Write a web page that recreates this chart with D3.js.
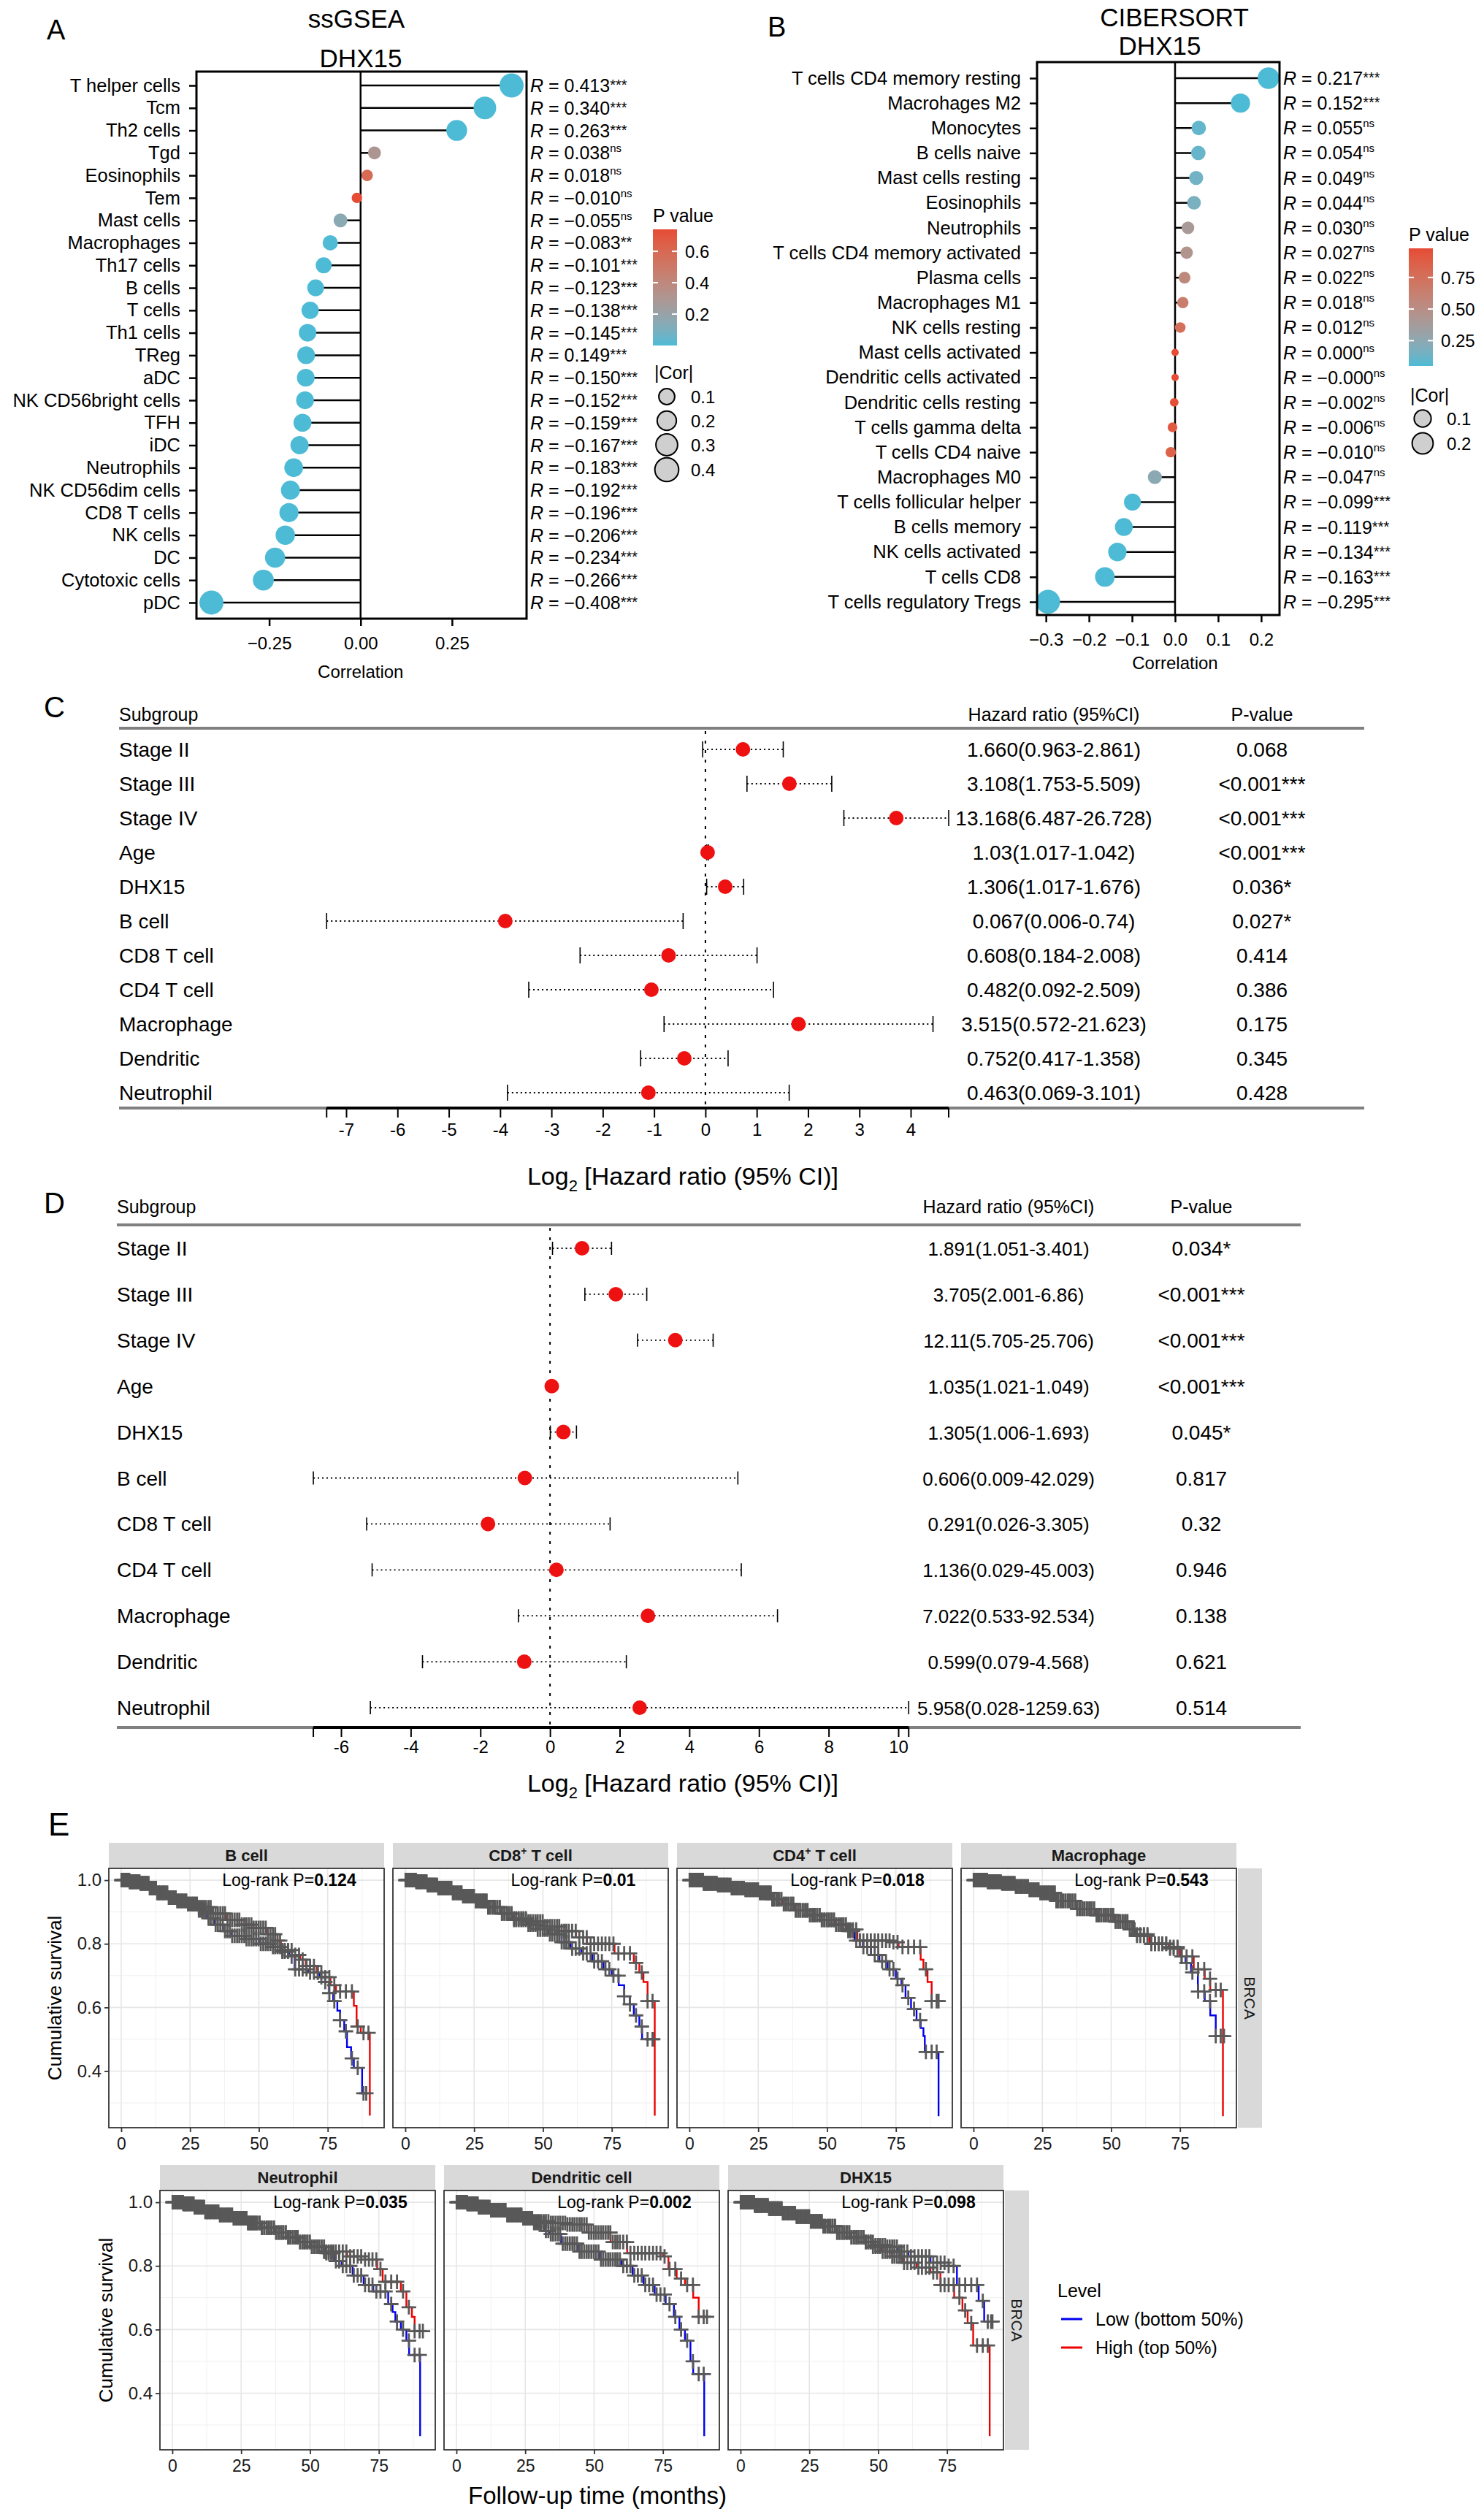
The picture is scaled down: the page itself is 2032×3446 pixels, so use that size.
<!DOCTYPE html>
<html>
<head>
<meta charset="utf-8">
<script src="https://cdn.jsdelivr.net/npm/d3@7"></script>
<style>
  body { margin: 0; background: #fff; }
  svg text { font-family: "Liberation Sans", Arial, sans-serif; }
</style>
</head>
<body>
<script>
// ---------- A: ssGSEA ----------
const ssgCells = ["T helper cells","Tcm","Th2 cells","Tgd","Eosinophils","Tem","Mast cells","Macrophages","Th17 cells","B cells","T cells","Th1 cells","TReg","aDC","NK CD56bright cells","TFH","iDC","Neutrophils","NK CD56dim cells","CD8 T cells","NK cells","DC","Cytotoxic cells","pDC"];
const ssgR = [0.413,0.340,0.263,0.038,0.018,-0.010,-0.055,-0.083,-0.101,-0.123,-0.138,-0.145,-0.149,-0.150,-0.152,-0.159,-0.167,-0.183,-0.192,-0.196,-0.206,-0.234,-0.266,-0.408];
const ssgRText = ["0.413","0.340","0.263","0.038","0.018","−0.010","−0.055","−0.083","−0.101","−0.123","−0.138","−0.145","0.149","−0.150","−0.152","−0.159","−0.167","−0.183","−0.192","−0.196","−0.206","−0.234","−0.266","−0.408"];
const ssgSig = ["***","***","***","ns","ns","ns","ns","**","***","***","***","***","***","***","***","***","***","***","***","***","***","***","***","***"];
const ssgP = [0,0,0,0.30,0.59,0.74,0.15,0.004,0,0,0,0,0,0,0,0,0,0,0,0,0,0,0,0];

// ---------- B: CIBERSORT ----------
const cibCells = ["T cells CD4 memory resting","Macrohages M2","Monocytes","B cells naive","Mast cells resting","Eosinophils","Neutrophils","T cells CD4 memory activated","Plasma cells","Macrophages M1","NK cells resting","Mast cells activated","Dendritic cells activated","Dendritic cells resting","T cells gamma delta","T cells CD4 naive","Macrophages M0","T cells follicular helper","B cells memory","NK cells activated","T cells CD8","T cells regulatory Tregs"];
const cibR = [0.217,0.152,0.055,0.054,0.049,0.044,0.030,0.027,0.022,0.018,0.012,0.000,-0.000,-0.002,-0.006,-0.010,-0.047,-0.099,-0.119,-0.134,-0.163,-0.295];
const cibRText = ["0.217","0.152","0.055","0.054","0.049","0.044","0.030","0.027","0.022","0.018","0.012","0.000","−0.000","−0.002","−0.006","−0.010","−0.047","−0.099","−0.119","−0.134","−0.163","−0.295"];
const cibSig = ["***","***","ns","ns","ns","ns","ns","ns","ns","ns","ns","ns","ns","ns","ns","ns","ns","***","***","***","***","***"];
const cibP = [0.05,0.05,0.10,0.11,0.14,0.17,0.40,0.45,0.55,0.65,0.76,0.98,0.98,0.96,0.90,0.85,0.24,0.05,0.05,0.05,0.05,0.05];

// ---------- C / D: forest plots ----------
const coxLabels = ["Stage II","Stage III","Stage IV","Age","DHX15","B cell","CD8 T cell","CD4 T cell","Macrophage","Dendritic","Neutrophil"];
const cHR = [1.660,3.108,13.168,1.03,1.306,0.067,0.608,0.482,3.515,0.752,0.463];
const cLow = [0.963,1.753,6.487,1.017,1.017,0.006,0.184,0.092,0.572,0.417,0.069];
const cHigh = [2.861,5.509,26.728,1.042,1.676,0.74,2.008,2.509,21.623,1.358,3.101];
const cHRText = ["1.660(0.963-2.861)","3.108(1.753-5.509)","13.168(6.487-26.728)","1.03(1.017-1.042)","1.306(1.017-1.676)","0.067(0.006-0.74)","0.608(0.184-2.008)","0.482(0.092-2.509)","3.515(0.572-21.623)","0.752(0.417-1.358)","0.463(0.069-3.101)"];
const cPText = ["0.068","<0.001***","<0.001***","<0.001***","0.036*","0.027*","0.414","0.386","0.175","0.345","0.428"];
const cTicks = [-7,-6,-5,-4,-3,-2,-1,0,1,2,3,4];

const dHR = [1.891,3.705,12.11,1.035,1.305,0.606,0.291,1.136,7.022,0.599,5.958];
const dLow = [1.051,2.001,5.705,1.021,1.006,0.009,0.026,0.029,0.533,0.079,0.028];
const dHigh = [3.401,6.86,25.706,1.049,1.693,42.029,3.305,45.003,92.534,4.568,1259.63];
const dHRText = ["1.891(1.051-3.401)","3.705(2.001-6.86)","12.11(5.705-25.706)","1.035(1.021-1.049)","1.305(1.006-1.693)","0.606(0.009-42.029)","0.291(0.026-3.305)","1.136(0.029-45.003)","7.022(0.533-92.534)","0.599(0.079-4.568)","5.958(0.028-1259.63)"];
const dPText = ["0.034*","<0.001***","<0.001***","<0.001***","0.045*","0.817","0.32","0.946","0.138","0.621","0.514"];
const dTicks = [-6,-4,-2,0,2,4,6,8,10];

// ---------- E: Kaplan-Meier curves ([month, survival]) ----------
const kmNames = ["B cell","CD8+ T cell","CD4+ T cell","Macrophage","Neutrophil","Dendritic cell","DHX15"];
const kmLogRank = ["0.124","0.01","0.018","0.543","0.035","0.002","0.098"];
const bcellLow = [[0,1],[3,0.995],[7,0.99],[10,0.975],[13,0.96],[17,0.945],[20,0.935],[24,0.925],[28,0.905],[31,0.88],[34,0.86],[37,0.84],[40,0.825],[45,0.815],[50,0.80],[55,0.79],[58,0.775],[61,0.76],[63,0.72],[68,0.71],[72,0.695],[74,0.68],[75.5,0.645],[77,0.62],[78.5,0.59],[79.5,0.56],[81,0.525],[82,0.475],[83.5,0.44],[84.5,0.41],[87.5,0.33],[89,0.33]];
const bcellHigh = [[0,1],[3,0.995],[7,0.99],[10,0.975],[13,0.96],[17,0.945],[20,0.935],[24,0.925],[28,0.915],[33,0.895],[38,0.875],[43,0.86],[48,0.85],[53,0.83],[56,0.81],[58,0.78],[62,0.765],[65,0.75],[67,0.73],[71,0.71],[74,0.695],[76,0.67],[78,0.65],[84.5,0.605],[85.5,0.54],[87,0.52],[90.3,0.26]];
const cd8Low = [[0,1],[4,0.995],[8,0.985],[12,0.975],[17,0.96],[21,0.95],[25,0.935],[30,0.915],[35,0.895],[39,0.875],[44,0.86],[48,0.845],[52,0.83],[56,0.805],[60,0.785],[64,0.77],[68,0.745],[72,0.72],[75,0.70],[77.5,0.67],[79.5,0.635],[81.5,0.61],[83,0.575],[85,0.54],[86,0.50],[90,0.50]];
const cd8High = [[0,1],[4,0.995],[8,0.985],[12,0.975],[17,0.96],[21,0.95],[25,0.935],[30,0.915],[35,0.895],[39,0.88],[44,0.87],[50,0.855],[56,0.84],[62,0.82],[66,0.80],[76,0.77],[83,0.74],[85,0.71],[86.5,0.68],[88,0.62],[90.6,0.26]];
const cd4Low = [[0,1],[5,0.99],[10,0.985],[15,0.975],[20,0.97],[25,0.96],[30,0.94],[34,0.925],[38,0.905],[43,0.89],[48,0.875],[53,0.86],[57,0.84],[60,0.81],[63,0.79],[66,0.765],[69,0.745],[72,0.72],[75,0.69],[77,0.67],[78.5,0.63],[80.5,0.595],[82.5,0.56],[84,0.535],[85,0.51],[85.5,0.46],[90.5,0.258]];
const cd4High = [[0,1],[5,0.99],[10,0.985],[15,0.975],[20,0.97],[25,0.96],[30,0.94],[34,0.925],[38,0.905],[43,0.89],[48,0.875],[53,0.86],[57,0.845],[61,0.81],[73,0.805],[76,0.79],[84,0.75],[85,0.72],[86.5,0.68],[88,0.62],[90.5,0.62]];
const macLow = [[0,1],[5,0.995],[10,0.99],[15,0.98],[20,0.97],[24,0.96],[30,0.935],[37,0.91],[44,0.89],[51,0.87],[56,0.845],[59,0.83],[64,0.80],[71,0.79],[75,0.76],[77,0.74],[79,0.71],[81.5,0.65],[84,0.62],[86,0.575],[88,0.51],[91,0.51]];
const macHigh = [[0,1],[5,0.995],[10,0.99],[15,0.98],[20,0.97],[24,0.96],[30,0.935],[37,0.91],[44,0.89],[51,0.87],[56,0.845],[59,0.825],[64,0.80],[71,0.785],[75,0.76],[80,0.72],[84,0.69],[86,0.655],[90.6,0.258]];
const neuLow = [[0,1],[4,0.995],[8,0.985],[12,0.97],[17,0.96],[22,0.95],[27,0.935],[32,0.92],[37,0.905],[42,0.89],[46,0.875],[50,0.86],[55.5,0.84],[59,0.815],[61.5,0.80],[65.5,0.77],[69.5,0.74],[73,0.72],[78.4,0.68],[80,0.655],[81,0.625],[83,0.60],[85,0.565],[86,0.52],[90,0.265]];
const neuHigh = [[0,1],[4,0.995],[8,0.985],[12,0.97],[17,0.96],[22,0.95],[27,0.935],[32,0.92],[37,0.905],[42,0.89],[46,0.875],[50,0.86],[55,0.845],[63.5,0.83],[70,0.82],[74.4,0.79],[76.4,0.75],[83,0.72],[85,0.67],[87,0.64],[88,0.595],[91,0.595]];
const dcLow = [[0,1],[4,0.995],[8,0.985],[12.5,0.975],[18,0.96],[24,0.95],[28,0.935],[32,0.91],[34,0.90],[38,0.87],[44,0.845],[52,0.82],[60,0.80],[64,0.77],[68,0.74],[72,0.71],[76,0.68],[79,0.64],[81,0.60],[83,0.565],[85,0.50],[86,0.46],[90,0.265]];
const dcHigh = [[0,1],[4,0.995],[8,0.985],[12.5,0.975],[18,0.96],[24,0.95],[28,0.94],[34,0.935],[40,0.93],[48,0.905],[56,0.875],[62,0.84],[75,0.83],[77,0.79],[80,0.76],[83,0.74],[86,0.70],[88,0.64],[91,0.64]];
const dhxLow = [[0,1],[5,0.99],[10,0.98],[15,0.966],[20,0.955],[25,0.94],[30,0.925],[35,0.905],[40,0.89],[45,0.875],[49,0.865],[53,0.86],[57,0.845],[61,0.83],[69,0.81],[75.6,0.80],[78.6,0.74],[86.5,0.69],[88.5,0.625],[91.5,0.625]];
const dhxHigh = [[0,1],[5,0.99],[10,0.98],[15,0.966],[20,0.955],[25,0.94],[30,0.925],[35,0.905],[40,0.89],[45,0.875],[48,0.86],[51,0.845],[55,0.83],[59,0.81],[64,0.795],[69,0.78],[72.6,0.74],[77.6,0.70],[80.6,0.66],[82.5,0.62],[84.5,0.55],[90.5,0.265]];
// follow-up times of censored patients (months)
const censorMonths = [0.1,0.3,0.5,0.6,0.8,1.0,1.2,1.3,1.5,1.7,1.9,2.1,2.3,2.4,2.6,2.9,3.1,3.3,3.6,3.8,4.0,4.3,4.6,4.9,5.2,5.5,5.9,6.2,6.6,7.0,7.3,7.7,8.1,8.6,9.0,9.5,9.9,
  10.4,10.9,11.5,12.0,12.6,13.1,13.7,14.2,14.9,15.4,16.0,16.7,17.3,17.8,18.5,19.1,19.8,20.4,21.0,21.7,22.3,23.0,23.6,24.3,24.9,25.6,26.2,26.9,27.5,28.2,28.8,29.5,30.1,
  30.8,31.7,32.5,33.4,34.3,35.1,36.0,36.9,37.7,38.6,39.5,40.3,41.2,42.1,42.9,43.8,44.7,45.5,46.4,47.3,48.1,49.0,49.9,50.7,51.6,52.5,53.3,54.2,55.1,55.9,56.8,57.7,58.5,59.4,
  60.6,61.9,63.2,64.6,65.9,67.3,68.6,70.0,71.4,72.7,74.1,75.6,77.4,79.5,81.6,83.8,85.9,88.0,89.8,91.0];

const sans = '"Liberation Sans", Arial, sans-serif';
const serif = '"Liberation Serif", "Times New Roman", serif';

const svg = d3.select("body").append("svg")
  .attr("width", 2032).attr("height", 3446)
  .style("background", "#fff");

function letter(t, x, y, size) {
  svg.append("text").attr("x", x).attr("y", y).attr("font-size", size).text(t);
}

// lollipop correlation plot (panels A and B)
function lollipop(o) {
  const g = svg.append("g");
  const [bx0, bx1, by0, by1] = o.box;
  const x = d3.scaleLinear().domain(o.xDomain).range([bx0, bx1]);
  const y = d3.scalePoint().domain(o.cells).range(o.rows);
  const col = d3.scaleLinear().domain(o.pDomain).range(["#4DBBD5", "#E64B35"]).interpolate(d3.interpolateLab);
  const rad = d3.scaleSqrt().domain(o.sizeDomain).range(o.sizeRange);
  const rows = o.cells.map((c, i) => ({c, r: o.r[i], t: o.rText[i], s: o.sig[i], p: o.p[i]}));

  o.titles.forEach(t => g.append("text").attr("x", t[0]).attr("y", t[1])
    .attr("text-anchor", "middle").attr("font-size", 35).text(t[2]));

  g.append("line").attr("x1", x(0)).attr("x2", x(0)).attr("y1", by0).attr("y2", by1)
    .attr("stroke", "#000").attr("stroke-width", 2.5);
  g.selectAll(".seg").data(rows).join("line")
    .attr("x1", x(0)).attr("x2", d => x(d.r))
    .attr("y1", d => y(d.c)).attr("y2", d => y(d.c))
    .attr("stroke", "#000").attr("stroke-width", 2.5);
  g.selectAll(".pt").data(rows).join("circle")
    .attr("cx", d => x(d.r)).attr("cy", d => y(d.c))
    .attr("r", d => rad(Math.abs(d.r))).attr("fill", d => col(d.p));
  g.append("rect").attr("x", bx0).attr("y", by0).attr("width", bx1 - bx0).attr("height", by1 - by0)
    .attr("fill", "none").attr("stroke", "#000").attr("stroke-width", 3);

  const ya = g.append("g").attr("transform", `translate(${bx0},0)`)
    .call(d3.axisLeft(y).tickSize(10).tickPadding(12));
  ya.select(".domain").remove();
  ya.attr("font-size", 25.5).attr("font-family", sans);
  ya.selectAll("line").attr("stroke-width", 2.5);

  const xa = g.append("g").attr("transform", `translate(0,${by1})`)
    .call(d3.axisBottom(x).tickValues(o.ticks).tickFormat(o.fmt).tickSize(10).tickPadding(15));
  xa.select(".domain").remove();
  xa.attr("font-size", 24).attr("font-family", sans);
  xa.selectAll("line").attr("stroke-width", 2.5);
  g.append("text").attr("x", x(0)).attr("y", o.xTitleY).attr("text-anchor", "middle")
    .attr("font-size", 24).text("Correlation");

  g.selectAll(".lab").data(rows).join("text")
    .attr("x", bx1 + 5).attr("y", d => y(d.c) + 9).attr("font-size", 25)
    .each(function (d) {
      const t = d3.select(this);
      t.append("tspan").attr("font-style", "italic").text("R");
      t.append("tspan").text(" = " + d.t);
      if (d.s === "ns") t.append("tspan").attr("font-size", 15).attr("dy", -10).text("ns");
      else t.append("tspan").attr("font-size", 20).attr("dy", -3).text(d.s);
    });

  // colour bar legend
  const L = o.legend;
  g.append("text").attr("x", L.x).attr("y", L.titleY).attr("font-size", 25).text("P value");
  const gid = "grad" + o.id;
  const grad = svg.append("defs").append("linearGradient").attr("id", gid)
    .attr("x1", 0).attr("x2", 0).attr("y1", 1).attr("y2", 0);
  d3.range(0, 1.0001, 0.1).forEach(f => grad.append("stop").attr("offset", f)
    .attr("stop-color", col(o.pDomain[0] + f * (o.pDomain[1] - o.pDomain[0]))));
  g.append("rect").attr("x", L.x).attr("y", L.barTop).attr("width", 33).attr("height", L.barBot - L.barTop)
    .attr("fill", `url(#${gid})`);
  const py = d3.scaleLinear().domain(o.pDomain).range([L.barBot, L.barTop]);
  L.pTicks.forEach(v => {
    g.append("line").attr("x1", L.x).attr("x2", L.x + 7).attr("y1", py(v)).attr("y2", py(v)).attr("stroke", "#fff").attr("stroke-width", 2);
    g.append("line").attr("x1", L.x + 26).attr("x2", L.x + 33).attr("y1", py(v)).attr("y2", py(v)).attr("stroke", "#fff").attr("stroke-width", 2);
    g.append("text").attr("x", L.x + 44).attr("y", py(v) + 9).attr("font-size", 24).text(L.pFmt(v));
  });
  // size legend
  g.append("text").attr("x", L.x + 2).attr("y", L.sizeTitleY).attr("font-size", 25).text("|Cor|");
  L.sizes.forEach((v, i) => {
    const cy = L.sizeY[i];
    g.append("circle").attr("cx", L.x + 19).attr("cy", cy).attr("r", rad(v))
      .attr("fill", "#cfcfcf").attr("stroke", "#000").attr("stroke-width", 2);
    g.append("text").attr("x", L.x + 52).attr("y", cy + 9).attr("font-size", 24).text(v);
  });
}

// forest plot (panels C and D)
function forest(o) {
  const g = svg.append("g");
  const x = d3.scaleLinear().domain(o.domain).range(o.range);
  const y = d3.scalePoint().domain(coxLabels).range(o.rows);
  const rows = coxLabels.map((l, i) => ({l, hr: o.hr[i], lo: o.lo[i], hi: o.hi[i], txt: o.txt[i], p: o.p[i]}));

  g.append("text").attr("x", o.labelX).attr("y", o.headY).attr("font-size", 25).text("Subgroup");
  g.append("text").attr("x", o.hrX).attr("y", o.headY).attr("text-anchor", "middle").attr("font-size", 25).text("Hazard ratio (95%CI)");
  g.append("text").attr("x", o.pX).attr("y", o.headY).attr("text-anchor", "middle").attr("font-size", 25).text("P-value");

  [o.headLine, o.footLine].forEach(yy => g.append("line")
    .attr("x1", o.lineX[0]).attr("x2", o.lineX[1]).attr("y1", yy).attr("y2", yy)
    .attr("stroke", "#808080").attr("stroke-width", 4));

  g.append("line").attr("x1", x(0)).attr("x2", x(0)).attr("y1", o.headLine + 4).attr("y2", o.footLine - 2)
    .attr("stroke", "#000").attr("stroke-width", 2).attr("stroke-dasharray", "4,9");

  const rg = g.selectAll(".row").data(rows).join("g").attr("transform", d => `translate(0,${y(d.l)})`);
  rg.append("line").attr("x1", d => x(Math.log2(d.lo))).attr("x2", d => x(Math.log2(d.hi)))
    .attr("stroke", "#000").attr("stroke-width", 1.8).attr("stroke-dasharray", "2,4");
  rg.append("line").attr("x1", d => x(Math.log2(d.lo))).attr("x2", d => x(Math.log2(d.lo)))
    .attr("y1", -o.cap).attr("y2", o.cap).attr("stroke", "#000").attr("stroke-width", 1.6);
  rg.append("line").attr("x1", d => x(Math.log2(d.hi))).attr("x2", d => x(Math.log2(d.hi)))
    .attr("y1", -o.cap).attr("y2", o.cap).attr("stroke", "#000").attr("stroke-width", 1.6);
  rg.append("circle").attr("cx", d => x(Math.log2(d.hr))).attr("r", 10).attr("fill", "#ee1111");
  rg.append("text").attr("x", o.labelX).attr("y", 10).attr("font-family", serif).attr("font-size", 28).text(d => d.l);
  rg.append("text").attr("x", o.hrX).attr("y", 10).attr("text-anchor", "middle").attr("font-family", serif).attr("font-size", o.hrSize).text(d => d.txt);
  rg.append("text").attr("x", o.pX).attr("y", 10).attr("text-anchor", "middle").attr("font-family", serif).attr("font-size", 28).text(d => d.p);

  const lo2 = d3.min(rows, d => Math.log2(d.lo));
  const hi2 = d3.max(rows, d => Math.log2(d.hi));
  const ax = g.append("g").attr("transform", `translate(0,${o.footLine})`)
    .call(d3.axisBottom(x).tickValues(o.ticks).tickFormat(d => String(d)).tickSize(13).tickPadding(o.tickPad));
  ax.select(".domain").remove();
  ax.attr("font-size", 24).attr("font-family", sans);
  ax.selectAll("line").attr("stroke-width", 2);
  g.append("line").attr("x1", x(lo2)).attr("x2", x(hi2)).attr("y1", o.footLine).attr("y2", o.footLine)
    .attr("stroke", "#000").attr("stroke-width", 4);
  [lo2, hi2].forEach(v => g.append("line").attr("x1", x(v)).attr("x2", x(v))
    .attr("y1", o.footLine).attr("y2", o.footLine + 13).attr("stroke", "#000").attr("stroke-width", 2));

  const tt = g.append("text").attr("x", 935).attr("y", o.titleY).attr("text-anchor", "middle").attr("font-size", 34);
  tt.append("tspan").text("Log");
  tt.append("tspan").attr("font-size", 22).attr("dy", 9).text("2");
  tt.append("tspan").attr("dy", -9).text(" [Hazard ratio (95% CI)]");
}

// Kaplan-Meier facet (panel E)
const panelW = 377, panelH = 355;
function km(o) {
  const g = svg.append("g");
  const x = d3.scaleLinear().domain([-4.5, 95.5]).range([o.x0, o.x0 + panelW]);
  const y = d3.scaleLinear().domain([0.222, 1.037]).range([o.y0 + panelH, o.y0]);

  g.append("rect").attr("x", o.x0).attr("y", o.y0 - 35).attr("width", panelW).attr("height", 35).attr("fill", "#d9d9d9");
  const st = g.append("text").attr("x", o.x0 + panelW / 2).attr("y", o.y0 - 10).attr("text-anchor", "middle")
    .attr("font-size", 22).attr("font-weight", "bold").attr("fill", "#1a1a1a");
  const nm = o.name.split("+");
  st.append("tspan").text(nm[0]);
  if (nm.length > 1) {
    st.append("tspan").attr("font-size", 14).attr("dy", -9).text("+");
    st.append("tspan").attr("dy", 9).text(nm[1]);
  }

  [12.5, 37.5, 62.5, 87.5].forEach(v => g.append("line").attr("x1", x(v)).attr("x2", x(v))
    .attr("y1", o.y0).attr("y2", o.y0 + panelH).attr("stroke", "#f0f0f0").attr("stroke-width", 1));
  [0.3, 0.5, 0.7, 0.9].forEach(v => g.append("line").attr("y1", y(v)).attr("y2", y(v))
    .attr("x1", o.x0).attr("x2", o.x0 + panelW).attr("stroke", "#f0f0f0").attr("stroke-width", 1));
  [0, 25, 50, 75].forEach(v => g.append("line").attr("x1", x(v)).attr("x2", x(v))
    .attr("y1", o.y0).attr("y2", o.y0 + panelH).attr("stroke", "#e6e6e6").attr("stroke-width", 1.6));
  [0.4, 0.6, 0.8, 1.0].forEach(v => g.append("line").attr("y1", y(v)).attr("y2", y(v))
    .attr("x1", o.x0).attr("x2", o.x0 + panelW).attr("stroke", "#e6e6e6").attr("stroke-width", 1.6));

  const line = d3.line().x(d => x(d[0])).y(d => y(d[1])).curve(d3.curveStepAfter);
  const curves = [{d: o.low, c: "#0000ee"}, {d: o.high, c: "#ee0000"}];
  curves.forEach(cv => g.append("path").attr("d", line(cv.d)).attr("fill", "none")
    .attr("stroke", cv.c).attr("stroke-width", 2.4));

  const bis = d3.bisector(d => d[0]).right;
  curves.forEach(cv => {
    const end = cv.d[cv.d.length - 1];
    const censored = cv.d[cv.d.length - 2][1] === end[1];
    const times = censorMonths.filter(t => t < end[0]);
    if (censored) times.push(end[0]);
    times.forEach(t => {
      const s = cv.d[bis(cv.d, t) - 1][1];
      g.append("path").attr("d", "M-10,0H10M0,-10V10")
        .attr("transform", `translate(${x(t)},${y(s)})`)
        .attr("stroke", "#585858").attr("stroke-width", 2.8).attr("fill", "none");
    });
  });

  const lt = g.append("text").attr("x", x(61)).attr("y", y(1.0) + 8).attr("text-anchor", "middle").attr("font-size", 23);
  lt.append("tspan").text("Log-rank P=");
  lt.append("tspan").attr("font-weight", "bold").text(o.p);

  g.append("rect").attr("x", o.x0).attr("y", o.y0).attr("width", panelW).attr("height", panelH)
    .attr("fill", "none").attr("stroke", "#333").attr("stroke-width", 1.8);

  const xa = g.append("g").attr("transform", `translate(0,${o.y0 + panelH})`)
    .call(d3.axisBottom(x).tickValues([0, 25, 50, 75]).tickSize(6).tickPadding(8));
  xa.select(".domain").remove();
  xa.attr("font-size", 23).attr("font-family", sans);
  xa.selectAll("line").attr("stroke", "#333").attr("stroke-width", 1.8);
  xa.selectAll("text").attr("fill", "#1a1a1a");

  if (o.yAxis) {
    const ya = g.append("g").attr("transform", `translate(${o.x0},0)`)
      .call(d3.axisLeft(y).tickValues([0.4, 0.6, 0.8, 1.0]).tickFormat(d3.format(".1f")).tickSize(6).tickPadding(4));
    ya.select(".domain").remove();
    ya.attr("font-size", 24).attr("font-family", sans);
    ya.selectAll("line").attr("stroke", "#333").attr("stroke-width", 1.8);
    ya.selectAll("text").attr("fill", "#1a1a1a");
    g.append("text").attr("transform", `translate(${o.x0 - 65},${o.y0 + panelH / 2}) rotate(-90)`)
      .attr("text-anchor", "middle").attr("font-size", 26).text("Cumulative survival");
  }
  if (o.brca) {
    g.append("rect").attr("x", o.x0 + panelW + 2).attr("y", o.y0).attr("width", 33).attr("height", panelH).attr("fill", "#d9d9d9");
    g.append("text").attr("transform", `translate(${o.x0 + panelW + 11},${o.y0 + panelH / 2}) rotate(90)`)
      .attr("text-anchor", "middle").attr("font-size", 21).attr("fill", "#1a1a1a").text("BRCA");
  }
}

// ---------- draw ----------
letter("A", 64, 54, 38);
letter("B", 1051, 50, 38);
letter("C", 60, 982, 40);
letter("D", 60, 1661, 40);
letter("E", 66, 2513, 44);

lollipop({
  id: "A", cells: ssgCells, r: ssgR, rText: ssgRText, sig: ssgSig, p: ssgP,
  box: [269, 721, 98, 847], rows: [117, 825], xDomain: [-0.449, 0.454],
  ticks: [-0.25, 0, 0.25], fmt: d => d3.format(".2f")(d), xTitleY: 928,
  titles: [[488, 38, "ssGSEA"], [494, 92, "DHX15"]],
  pDomain: [0, 0.74], sizeDomain: [0, 0.413], sizeRange: [5.5, 16.5],
  legend: {x: 894, titleY: 304, barTop: 314, barBot: 473, pTicks: [0.2, 0.4, 0.6], pFmt: d3.format(".1f"),
    sizeTitleY: 519, sizes: [0.1, 0.2, 0.3, 0.4], sizeY: [543, 576, 609, 643]}
});

lollipop({
  id: "B", cells: cibCells, r: cibR, rText: cibRText, sig: cibSig, p: cibP,
  box: [1420, 1752, 85, 842], rows: [107, 824], xDomain: [-0.3206, 0.2426],
  ticks: [-0.3, -0.2, -0.1, 0, 0.1, 0.2], fmt: d => d3.format(".1f")(d), xTitleY: 916,
  titles: [[1608, 36, "CIBERSORT"], [1588, 75, "DHX15"]],
  pDomain: [0.05, 0.98], sizeDomain: [0, 0.295], sizeRange: [5, 16.4],
  legend: {x: 1929, titleY: 330, barTop: 340, barBot: 501, pTicks: [0.25, 0.5, 0.75], pFmt: d3.format(".2f"),
    sizeTitleY: 550, sizes: [0.1, 0.2], sizeY: [573, 607]}
});

forest({
  hr: cHR, lo: cLow, hi: cHigh, txt: cHRText, p: cPText,
  domain: [-7, 4], range: [474, 1247], rows: [1026, 1496], ticks: cTicks,
  labelX: 163, hrX: 1443, pX: 1728, headY: 987, headLine: 997, footLine: 1517,
  lineX: [163, 1868], cap: 11, tickPad: 8, titleY: 1622, hrSize: 28
});

forest({
  hr: dHR, lo: dLow, hi: dHigh, txt: dHRText, p: dPText,
  domain: [-6, 10], range: [467, 1230], rows: [1709, 2338], ticks: dTicks,
  labelX: 160, hrX: 1381, pX: 1645, headY: 1661, headLine: 1677, footLine: 2365,
  lineX: [160, 1781], cap: 9, tickPad: 5, titleY: 2453, hrSize: 26
});

const kmLow = [bcellLow, cd8Low, cd4Low, macLow, neuLow, dcLow, dhxLow];
const kmHigh = [bcellHigh, cd8High, cd4High, macHigh, neuHigh, dcHigh, dhxHigh];
const kmX0 = [149, 538, 927, 1316, 219, 608, 997];
kmNames.forEach((nm, i) => km({
  name: nm, p: kmLogRank[i], low: kmLow[i], high: kmHigh[i],
  x0: kmX0[i], y0: i < 4 ? 2558 : 2999,
  yAxis: i === 0 || i === 4, brca: i === 3 || i === 6
}));

svg.append("text").attr("x", 818).attr("y", 3428).attr("text-anchor", "middle").attr("font-size", 33)
  .text("Follow-up time (months)");

// KM legend
svg.append("text").attr("x", 1448).attr("y", 3145).attr("font-size", 25).text("Level");
[["Low (bottom 50%)", "#0000ee", 3175], ["High (top 50%)", "#ee0000", 3214]].forEach(l => {
  svg.append("line").attr("x1", 1453).attr("x2", 1482).attr("y1", l[2]).attr("y2", l[2])
    .attr("stroke", l[1]).attr("stroke-width", 3);
  svg.append("text").attr("x", 1500).attr("y", l[2] + 9).attr("font-size", 25).text(l[0]);
});
</script>
</body>
</html>
